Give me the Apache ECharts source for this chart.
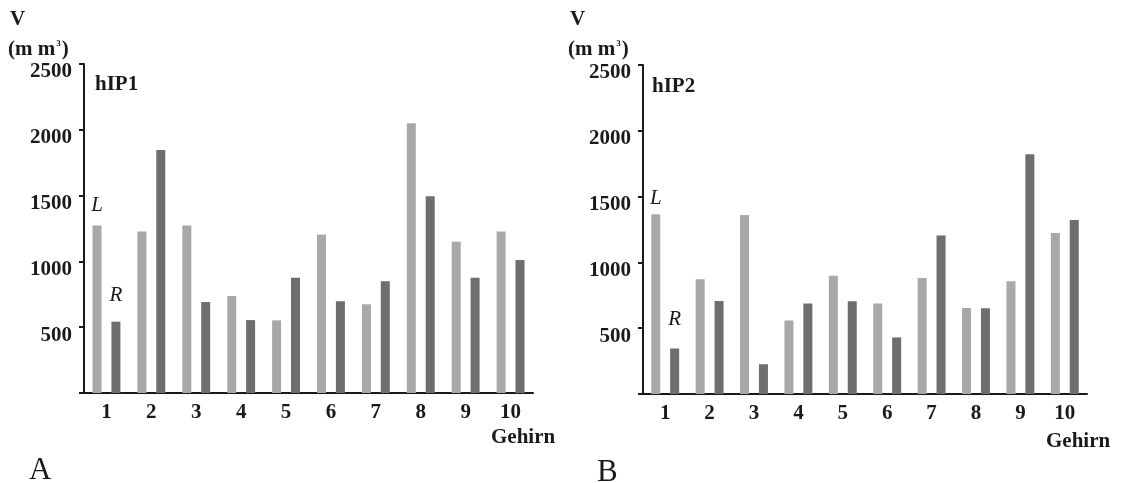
<!DOCTYPE html>
<html>
<head>
<meta charset="utf-8">
<script src="https://cdn.jsdelivr.net/npm/echarts@6/dist/echarts.min.js"></script>
<style>
    html, body { margin: 0; padding: 0; background: #fff; }
    #chart { width: 1123px; height: 483px; }
</style>
</head>
<body>
<div id="chart"></div>
<script>
// Gehirn 1..10
const categories = ['1', '2', '3', '4', '5', '6', '7', '8', '9', '10']
// hIP1 volumes (mm³), left / right hemisphere
const hip1Left = [1272, 1228, 1272, 737, 552, 1205, 674, 2050, 1149, 1228]
const hip1Right = [542, 1846, 692, 554, 875, 697, 849, 1495, 875, 1010]
// hIP2 volumes (mm³), left / right hemisphere
const hip2Left = [1366, 872, 1361, 559, 898, 687, 882, 654, 857, 1223]
const hip2Right = [346, 707, 226, 687, 704, 430, 1205, 651, 1821, 1322]
const yTicks = [0, 500, 1000, 1500, 2000, 2500]

const font = 'Liberation Serif'
const ink = '#1a1a1a'
const lightGrey = '#a8a8a8'
const darkGrey = '#6e6e6e'

// first bar of each series carries the L / R tag
function withTag(values, tag, distance) {
    return values.map((v, i) => {
        if (i !== 0) return v
        return {
            value: v,
            label: {
                show: true,
                position: 'top',
                distance: distance,
                formatter: tag,
                fontFamily: font,
                fontStyle: 'italic',
                fontSize: 21,
                color: ink
            }
        }
    })
}

function xAxis(gridIndex) {
    return {
        type: 'category',
        gridIndex,
        data: categories,
        axisLine: { lineStyle: { color: ink, width: 2 } },
        axisTick: { alignWithLabel: true, length: 5, lineStyle: { color: ink, width: 2 } },
        axisLabel: { color: ink, fontFamily: font, fontWeight: 'bold', fontSize: 21, margin: 9 }
    }
}

function yAxis(gridIndex) {
    return {
        type: 'value',
        gridIndex,
        min: yTicks[0],
        max: yTicks[yTicks.length - 1],
        interval: 500,
        splitLine: { show: false },
        axisLine: { show: true, lineStyle: { color: ink, width: 2 } },
        axisTick: { show: true, length: 5, lineStyle: { color: ink, width: 2 } },
        axisLabel: {
            color: ink,
            fontFamily: font,
            fontWeight: 'bold',
            fontSize: 21,
            margin: 12,
            verticalAlign: 'top',
            lineHeight: 16,
            formatter: v => (v === 0 ? '' : String(v))
        }
    }
}

function text(str, left, top, extra) {
    return Object.assign({
        text: str,
        left,
        top,
        padding: 0,
        textStyle: { color: ink, fontFamily: font, fontWeight: 'bold', fontSize: 21 }
    }, extra || {})
}

const unitStyle = {
    textStyle: {
        color: ink,
        fontFamily: font,
        fontWeight: 'bold',
        fontSize: 21,
        rich: {
            a: { color: ink, fontFamily: font, fontWeight: 'bold', fontSize: 21 },
            s: { color: ink, fontFamily: font, fontWeight: 'bold', fontSize: 9, padding: [0, 1, 12, 1] }
        }
    }
}
const panelStyle = { textStyle: { color: ink, fontFamily: font, fontWeight: 'normal', fontSize: 31 } }

const option = {
    backgroundColor: '#fff',
    animation: false,
    title: [
        text('V', 10, 9),
        text('{a|(m m}{s|3}{a|)}', 8, 39, unitStyle),
        text('hIP1', 95, 74),
        text('Gehirn', 491, 427),
        text('A', 29, 455, panelStyle),
        text('V', 570, 9),
        text('{a|(m m}{s|3}{a|)}', 568, 39, unitStyle),
        text('hIP2', 652, 76),
        text('Gehirn', 1046, 431),
        text('B', 597, 457, panelStyle)
    ],
    grid: [
        { left: 84, top: 64, width: 449, height: 329 },
        { left: 643, top: 65, width: 444, height: 329 }
    ],
    xAxis: [xAxis(0), xAxis(1)],
    yAxis: [yAxis(0), yAxis(1)],
    series: [
        { name: 'L', type: 'bar', xAxisIndex: 0, yAxisIndex: 0, barWidth: 9, barGap: '110%',
          itemStyle: { color: lightGrey }, data: withTag(hip1Left, 'L', 10) },
        { name: 'R', type: 'bar', xAxisIndex: 0, yAxisIndex: 0, barWidth: 9, barGap: '110%',
          itemStyle: { color: darkGrey }, data: withTag(hip1Right, 'R', 16) },
        { name: 'L', type: 'bar', xAxisIndex: 1, yAxisIndex: 1, barWidth: 9, barGap: '110%',
          itemStyle: { color: lightGrey }, data: withTag(hip2Left, 'L', 5) },
        { name: 'R', type: 'bar', xAxisIndex: 1, yAxisIndex: 1, barWidth: 9, barGap: '110%',
          itemStyle: { color: darkGrey }, data: withTag(hip2Right, 'R', 18) }
    ]
}

const chart = echarts.init(document.getElementById('chart'))
chart.setOption(option)
</script>
</body>
</html>
